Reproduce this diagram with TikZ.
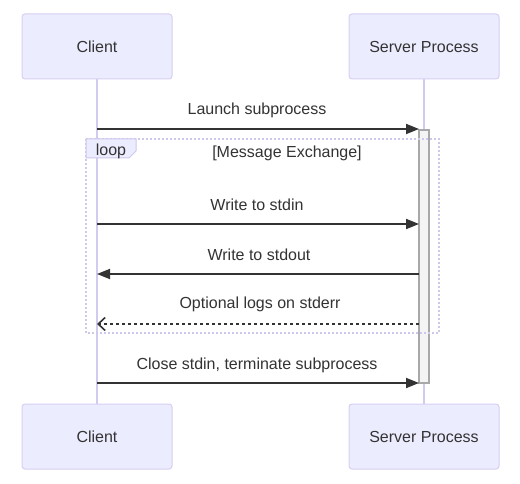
\documentclass[tikz,border=0pt]{standalone}
\usepackage{fontspec}
\setmainfont{Liberation Sans}
\usetikzlibrary{arrows.meta}
\definecolor{actfill}{HTML}{ECECFF}
\definecolor{actline}{HTML}{D6CFF2}
\definecolor{lifeline}{HTML}{D3CBEF}
\definecolor{loopline}{HTML}{CFC7EC}
\definecolor{txt}{HTML}{333333}
\definecolor{actvfill}{HTML}{F4F4F4}
\definecolor{actvline}{HTML}{A8A8A8}
\tikzset{
  actor/.style={draw=actline, line width=1pt, fill=actfill, rounded corners=3pt, minimum width=150pt, minimum height=65pt, inner sep=0pt, text=txt, font=\fontsize{16}{19}\selectfont},
  msglabel/.style={text=txt, font=\fontsize{16}{19}\selectfont, inner sep=0pt},
  msg/.style={draw=txt, line width=1.8pt, -{Triangle[length=13pt,width=10pt]}},
  dmsg/.style={draw=txt, line width=1.8pt, dash pattern=on 3pt off 3pt, -{Straight Barb[length=7pt,width=13pt,line width=1.6pt]}},
  life/.style={draw=lifeline, line width=1.5pt},
  loopbox/.style={draw=loopline, line width=1.5pt, dash pattern=on 2pt off 2pt},
}
\begin{document}
\begin{tikzpicture}[x=1pt,y=-1pt]
\useasboundingbox[fill=white] (0,0) rectangle (520,484);
% lifelines
\coordinate (cl0) at (97,79);
\coordinate (cl1) at (97,404);
\coordinate (sl0) at (424,79);
\coordinate (sl1) at (424,404);
\draw[life] (cl0) -- (cl1);
\draw[life] (sl0) -- (sl1);
% actors
\node[actor] (ct) at (97,46.5) {Client};
\node[actor] (st) at (424,46.5) {Server Process};
\node[actor] (cb) at (97,436.5) {Client};
\node[actor] (sb) at (424,436.5) {Server Process};
% activation
\node[draw=actvline, fill=actvfill, line width=1.3pt, minimum width=10pt, minimum height=253pt, inner sep=0pt] (act) at (424,256.5) {};
% loop box
\draw[loopbox] (86,139) rectangle (439,333);
\coordinate (lp1) at (86,139);
\coordinate (lp2) at (136,139);
\coordinate (lp3) at (136,151);
\coordinate (lp4) at (129,158);
\coordinate (lp5) at (86,158);
\draw[draw=loopline, fill=actfill, line width=1pt] (lp1) -- (lp2) -- (lp3) -- (lp4) -- (lp5) -- cycle;
\node[msglabel] (looplbl) at (111,151) {loop};
\node[msglabel] (loopcond) at (287,153) {[Message Exchange]};
% message 1
\coordinate (m1a) at (97,129);
\coordinate (m1b) at (419,129);
\node[msglabel] (t1) at (257,110) {Launch subprocess};
\draw[msg] (m1a) -- (m1b);
% message 2
\coordinate (m2a) at (97,224);
\coordinate (m2b) at (419,224);
\node[msglabel] (t2) at (257,205) {Write to stdin};
\draw[msg] (m2a) -- (m2b);
% message 3
\coordinate (m3a) at (419,274);
\coordinate (m3b) at (97,274);
\node[msglabel] (t3) at (259,255) {Write to stdout};
\draw[msg] (m3a) -- (m3b);
% message 4
\coordinate (m4a) at (419,324);
\coordinate (m4b) at (97,324);
\node[msglabel] (t4) at (260,304) {Optional logs on stderr};
\draw[dmsg] (m4a) -- (m4b);
% message 5
\coordinate (m5a) at (97,383);
\coordinate (m5b) at (419,383);
\node[msglabel] (t5) at (257,365) {Close stdin, terminate subprocess};
\draw[msg] (m5a) -- (m5b);
\end{tikzpicture}
\end{document}
